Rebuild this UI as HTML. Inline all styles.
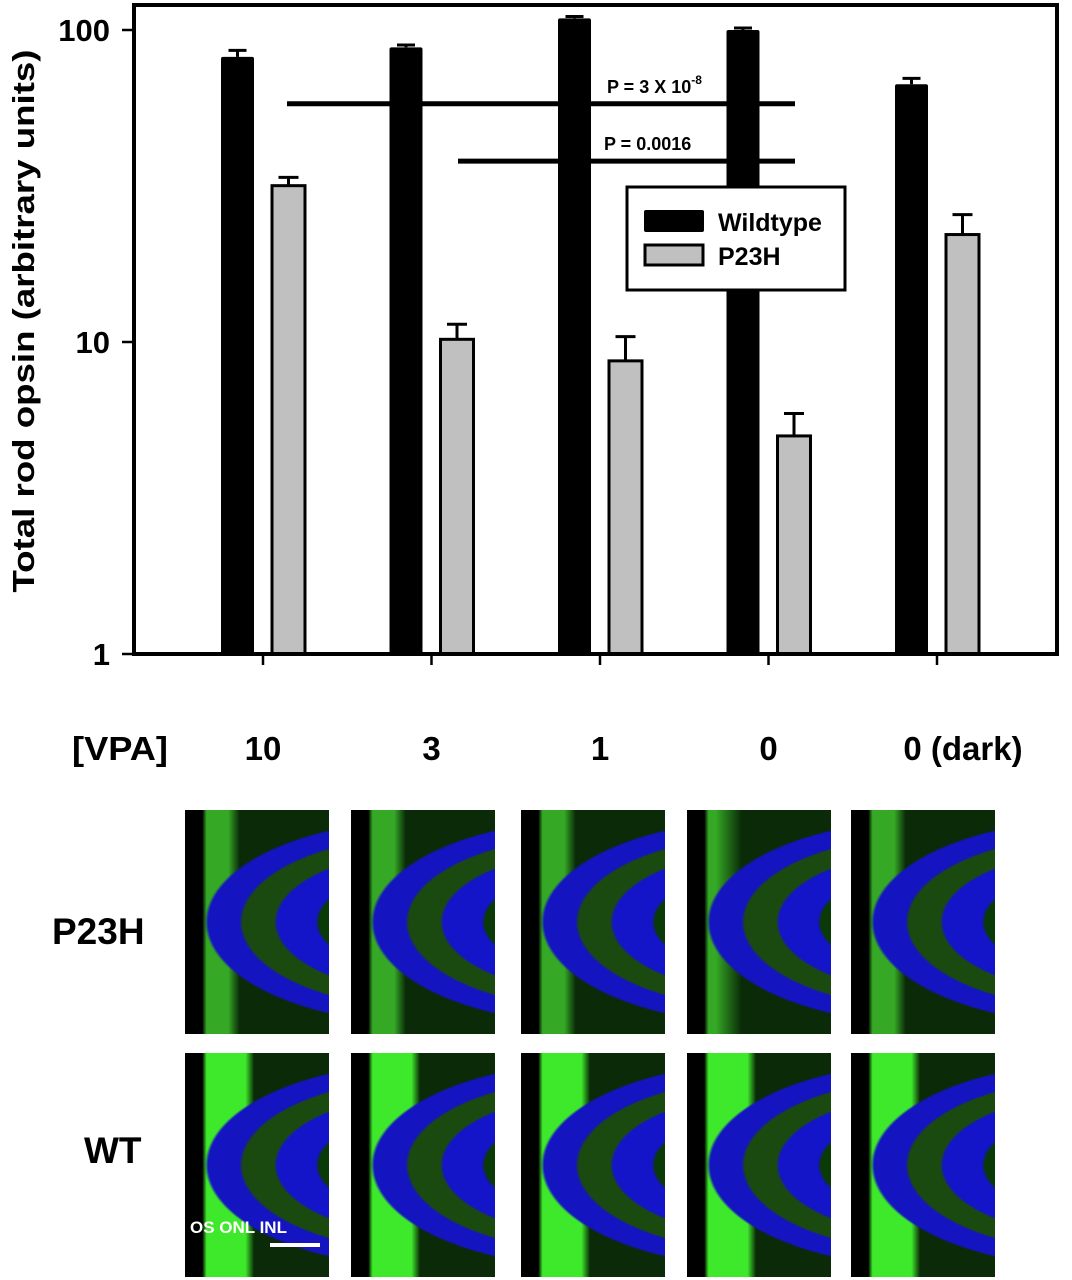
<!DOCTYPE html>
<html><head><meta charset="utf-8"><style>
html,body{margin:0;padding:0;background:#fff;}
body{width:1072px;height:1280px;overflow:hidden;position:relative;font-family:"Liberation Sans",Arial,sans-serif;}
svg text{font-family:"Liberation Sans",Arial,sans-serif;font-weight:bold;}
.img{position:absolute;width:144px;height:224px;overflow:hidden;background:#000;}
</style></head><body>
<svg id="chart" width="1072" height="800" style="position:absolute;left:0;top:0">
</svg>
<div id="panels"></div>
<script>
const categories = ["10","3","1","0","0 (dark)"];
const wildtype = [82, 88, 109, 100, 67];
const wildtypeErr = [4, 1.5, 1.5, 1.5, 3];
const p23h = [31.7, 10.2, 8.7, 5.0, 22.1];
const p23hErr = [2, 1.2, 1.7, 0.9, 3.5];
const yTicks = [1, 10, 100];
const sigLabels = ["P = 3 X 10", "P = 0.0016"];
const sigLevels = [58, 38];

const NS="http://www.w3.org/2000/svg";
const svg=document.getElementById('chart');
const L=134,R=1057,T=5,B=654;
const y0=654, dec=312;
function yScale(v){return y0-Math.log10(v)*dec;}
function xScale(i){return 263+i*168.5;}
function mk(tag,attrs,parent){const e=document.createElementNS(NS,tag);for(const k in attrs)e.setAttribute(k,attrs[k]);(parent||svg).appendChild(e);return e;}

// significance lines
sigLevels.forEach((v,i)=>{
  const l=mk('line',{x1:i==0?287:458,x2:795,y1:yScale(v),y2:yScale(v),stroke:'#000','stroke-width':5});
  
  
  const t=mk('text',{x:i==0?607:604,y:yScale(v)-11,'font-size':18});
  t.textContent=sigLabels[i];
  
  
  if(i==0){const s=mk('tspan',{dy:-9,'font-size':12},t);s.textContent='-8';}
});

// bars
categories.forEach((c,i)=>{
  const cx=xScale(i);
  const wx=cx-42, gx=cx+9, w=33;
  const wt=yScale(wildtype[i]);
  const we=yScale(wildtype[i]+wildtypeErr[i]);
  const e1=mk('line',{x1:wx+w/2,x2:wx+w/2,y1:wt,y2:we,stroke:'#000','stroke-width':3});
  
  
  const c1=mk('line',{x1:wx+w/2-9,x2:wx+w/2+9,y1:we,y2:we,stroke:'#000','stroke-width':3});
  
  
  const b1=mk('rect',{x:wx,y:wt,width:w,height:B-wt,fill:'#000',rx:2});
  
  
  const gt=yScale(p23h[i]);
  const ge=yScale(p23h[i]+p23hErr[i]);
  const e2=mk('line',{x1:gx+w/2,x2:gx+w/2,y1:gt,y2:ge,stroke:'#000','stroke-width':3});
  
  
  const c2=mk('line',{x1:gx+w/2-10,x2:gx+w/2+10,y1:ge,y2:ge,stroke:'#000','stroke-width':3});
  
  
  const b2=mk('rect',{x:gx,y:gt,width:w,height:B-gt,fill:'#c0c0c0',stroke:'#000','stroke-width':3});
  
  
  const tk=mk('line',{x1:cx,x2:cx,y1:B,y2:B+11,stroke:'#000','stroke-width':2.5});
  
  
  const lx = i==categories.length-1 ? cx+26 : cx;
  const lab=mk('text',{x:lx,y:760,'font-size':33,'text-anchor':'middle'});
  lab.textContent=c;
  
  
});

// frame
const fr=mk('rect',{x:L,y:T,width:R-L,height:B-T,fill:'none',stroke:'#000','stroke-width':4});



yTicks.forEach(v=>{
  const y=yScale(v);
  const tk=mk('line',{x1:L-12,x2:L,y1:y,y2:y,stroke:'#000','stroke-width':2.5});
  
  
  const t=mk('text',{x:L-24,y:y+11,'font-size':31,'text-anchor':'end'});
  t.textContent=v;
  
  
});

const yt=mk('text',{x:0,y:0,'font-size':31,'text-anchor':'middle',textLength:543,lengthAdjust:'spacingAndGlyphs',transform:'translate(34,321) rotate(-90)'});
yt.textContent='Total rod opsin (arbitrary units)';



const vpa=mk('text',{x:72,y:760,'font-size':33,textLength:96,lengthAdjust:'spacingAndGlyphs'});
vpa.textContent='[VPA]';



// legend
const lg=mk('g',{});


mk('rect',{x:627,y:187,width:218,height:103,fill:'#fff',stroke:'#000','stroke-width':3},lg);
mk('rect',{x:644,y:210,width:60,height:22,fill:'#000',rx:2},lg);
mk('rect',{x:645,y:245,width:58,height:20,fill:'#c0c0c0',stroke:'#000','stroke-width':3},lg);
const lt1=mk('text',{x:718,y:231,'font-size':25},lg);lt1.textContent='Wildtype';


const lt2=mk('text',{x:718,y:265,'font-size':25},lg);lt2.textContent='P23H';



// micrograph panels
const panels=document.getElementById('panels');
const cols=[185,351,521,687,851];
const rows=[{y:810,name:'p23h',g:'#35a825'},{y:1053,name:'wt',g:'#3ee82a'}];
rows.forEach((r,ri)=>{
  cols.forEach((x,ci)=>{
    const d=document.createElement('div');
    d.className='img';
    d.style.left=x+'px';d.style.top=r.y+'px';
    const gw = ri==0 ? [12,18,30,38] : [12,22,42,48];
    if(ri==0 && ci==3){gw[1]=14;gw[2]=20;}
    d.style.background=`radial-gradient(ellipse at 170% 50%, #000 0 22%, #0a3a06 23% 32%, #1414c8 33% 44%, #1a4a10 45% 54%, #1414c0 55% 64%, transparent 65%), linear-gradient(90deg,#000 0 ${gw[0]}%, ${r.g} ${gw[0]+3}% ${gw[2]}%, #0a2a08 ${gw[3]}% 100%)`;
    
    
    panels.appendChild(d);
  });
});
const rl=[['P23H',52,946],['WT',84,1165]];
rl.forEach(a=>{
  const s=document.createElement('div');
  s.textContent=a[0];
  s.style.cssText=`position:absolute;left:${a[1]}px;top:${a[2]-33}px;font-size:37px;font-weight:bold;line-height:1;`;
  
  
  document.body.appendChild(s);
});
const os=document.createElement('div');
os.textContent='OS ONL INL';
os.style.cssText='position:absolute;left:190px;top:1218px;color:#fff;font-size:17px;font-weight:bold;';


document.body.appendChild(os);
const sb=document.createElement('div');
sb.style.cssText='position:absolute;left:270px;top:1243px;width:50px;height:4px;background:#fff;';


document.body.appendChild(sb);
</script>
</body></html>
